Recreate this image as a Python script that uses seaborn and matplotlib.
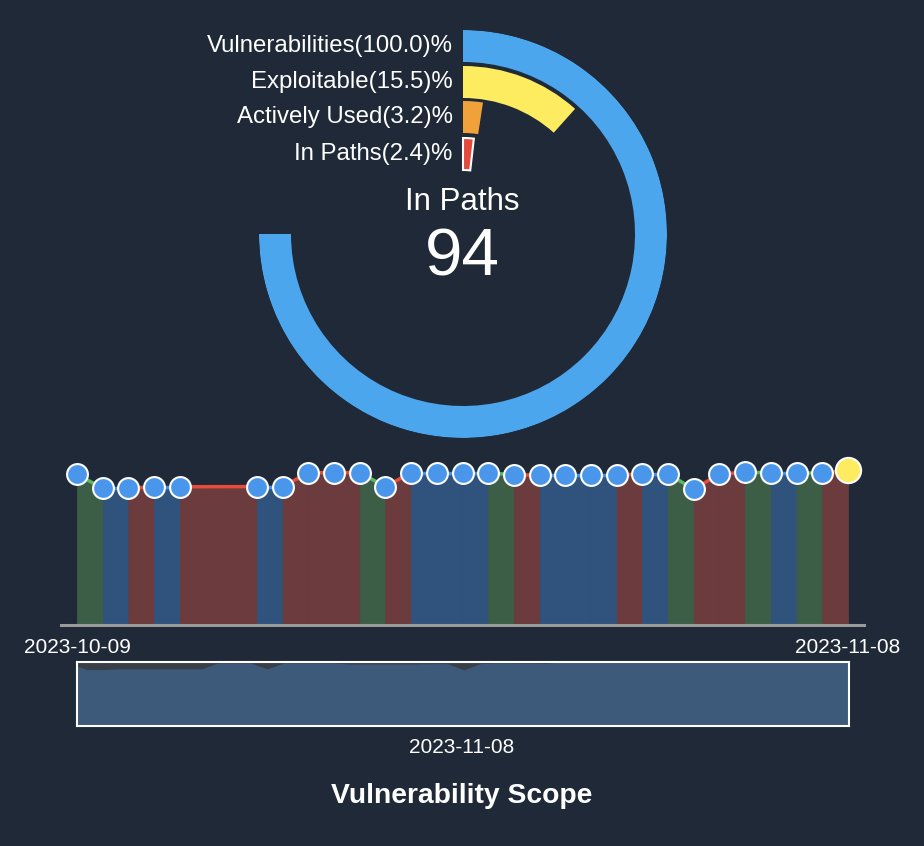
import numpy as np
import pandas as pd
import matplotlib
matplotlib.use('Agg')
import matplotlib.pyplot as plt
import seaborn as sns

# funnel summary (percent of all vulnerabilities)
stages = ['Vulnerabilities', 'Exploitable', 'Actively Used', 'In Paths']
stage_pct = [100.0, 15.5, 3.2, 2.4]
stage_colors = ['#4ba6ee', '#fdec5f', '#f1a13a', '#e4493b']
in_paths_count = 94

# daily vulnerability totals
dates = ['2023-10-09', '2023-10-10', '2023-10-11', '2023-10-12', '2023-10-13',
         '2023-10-16', '2023-10-17', '2023-10-18', '2023-10-19', '2023-10-20',
         '2023-10-21', '2023-10-22', '2023-10-23', '2023-10-24', '2023-10-25',
         '2023-10-26', '2023-10-27', '2023-10-28', '2023-10-29', '2023-10-30',
         '2023-10-31', '2023-11-01', '2023-11-02', '2023-11-03', '2023-11-04',
         '2023-11-05', '2023-11-06', '2023-11-07', '2023-11-08']
counts = [3808, 3455, 3455, 3495, 3495,
          3498, 3498, 3849, 3851, 3853,
          3497, 3853, 3853, 3853, 3853,
          3791, 3793, 3793, 3793, 3793,
          3816, 3816, 3437, 3816, 3859,
          3849, 3849, 3834, 3917]

BG = '#1f2937'
LINE_COLORS = {-1: '#5cb85c', 0: '#4a90e2', 1: '#e74c3c'}
FILL_COLORS = {-1: '#3c5e47', 0: '#30537d', 1: '#6b3b3d'}

sns.set_theme(style='dark', rc={'figure.facecolor': BG, 'axes.facecolor': BG,
                                'text.color': 'white', 'xtick.color': 'white'})
plt.rcParams['font.family'] = ['Liberation Sans', 'DejaVu Sans']

df = pd.DataFrame({'date': pd.to_datetime(dates), 'count': counts})
trend = np.sign(np.diff(df['count'].values)).astype(int)

fig = plt.figure(figsize=(9.24, 8.46), dpi=100)

# ---- radial bars ----
pax = fig.add_axes([259 / 924, 408 / 846, 408 / 924, 408 / 846], projection='polar')
pax.set_theta_zero_location('N')
pax.set_theta_direction(-1)
band_inner = [172, 136, 101, 64]
band_width = 32
for name, pct, col, r0 in zip(stages, stage_pct, stage_colors, band_inner):
    sweep = pct / 100 * 1.5 * np.pi
    edge = 'white' if name == 'In Paths' else col
    lw = 1.5 if name == 'In Paths' else 0
    pax.bar(0, band_width, width=sweep, bottom=r0, align='edge',
            color=col, edgecolor=edge, linewidth=lw)
    pax.annotate(f'{name}({pct:.1f})%', xy=(0, r0 + band_width / 2),
                 xytext=(-7.5, 0), textcoords='offset points',
                 ha='right', va='center', fontsize=17.3, color='white')
pax.set_ylim(0, 204)
pax.set_axis_off()

fig.text(0.5, 1 - 202 / 846, 'In Paths', ha='center', va='center', fontsize=22.5, color='white')
fig.text(0.5, 1 - 258 / 846, str(in_paths_count), ha='center', va='center',
         fontsize=48.5, color='white')

# ---- daily trend ----
ax = fig.add_axes([61 / 924, 221 / 846, 803 / 924, 170 / 846])
x = df['date']
y = df['count']
for i, t in enumerate(trend):
    ax.fill_between(x.iloc[i:i + 2], y.iloc[i:i + 2], color=FILL_COLORS[t],
                    edgecolor=FILL_COLORS[t], lw=0.6, zorder=1)
    ax.plot(x.iloc[i:i + 2], y.iloc[i:i + 2], color=LINE_COLORS[t], lw=2.5, zorder=2)
sns.scatterplot(data=df.iloc[:-1], x='date', y='count', ax=ax, s=225, color='#4a96ea',
                edgecolor='white', linewidth=1.5, zorder=3)
sns.scatterplot(data=df.iloc[-1:], x='date', y='count', ax=ax, s=330, color='#fdec5f',
                edgecolor='white', linewidth=1.5, zorder=4)
pad = pd.Timedelta(hours=15)
ax.set_xlim(x.iloc[0] - pad, x.iloc[-1] + pad)
ax.set_ylim(0, max(counts) * 1.097)
ax.set_xticks([x.iloc[0], x.iloc[-1]])
ax.set_xticklabels([dates[0], dates[-1]])
ax.set_yticks([])
ax.set_xlabel('')
ax.set_ylabel('')
ax.tick_params(axis='x', length=0, pad=9, labelsize=15, colors='white')
for s in ['top', 'left', 'right']:
    ax.spines[s].set_visible(False)
ax.spines['bottom'].set_color('#9a9a9a')
ax.spines['bottom'].set_linewidth(2.2)
ax.spines['bottom'].set_zorder(5)

# ---- overview brush ----
bx = fig.add_axes([77 / 924, 120 / 846, 772 / 924, 64 / 846])
bx.set_facecolor('#393f49')
days = (df['date'] - df['date'].iloc[0]).dt.days.values
bx_right = 47.5
bx.fill_between(np.append(days, bx_right), np.append(counts, counts[-1]),
                color='#3e5a7b', lw=0)
bx.set_xlim(0.4, bx_right)
bx.set_ylim(0, max(counts))
bx.set_xticks([])
bx.set_yticks([])
for s in bx.spines.values():
    s.set_visible(True)
    s.set_color('white')
    s.set_linewidth(1.5)

fig.text(0.5, 1 - 747 / 846, dates[-1], ha='center', va='center', fontsize=15, color='white')
fig.text(0.5, 1 - 796 / 846, 'Vulnerability Scope', ha='center', va='center',
         fontsize=20.3, fontweight='bold', color='white')

fig.savefig('out.png', dpi=100, facecolor=BG)
